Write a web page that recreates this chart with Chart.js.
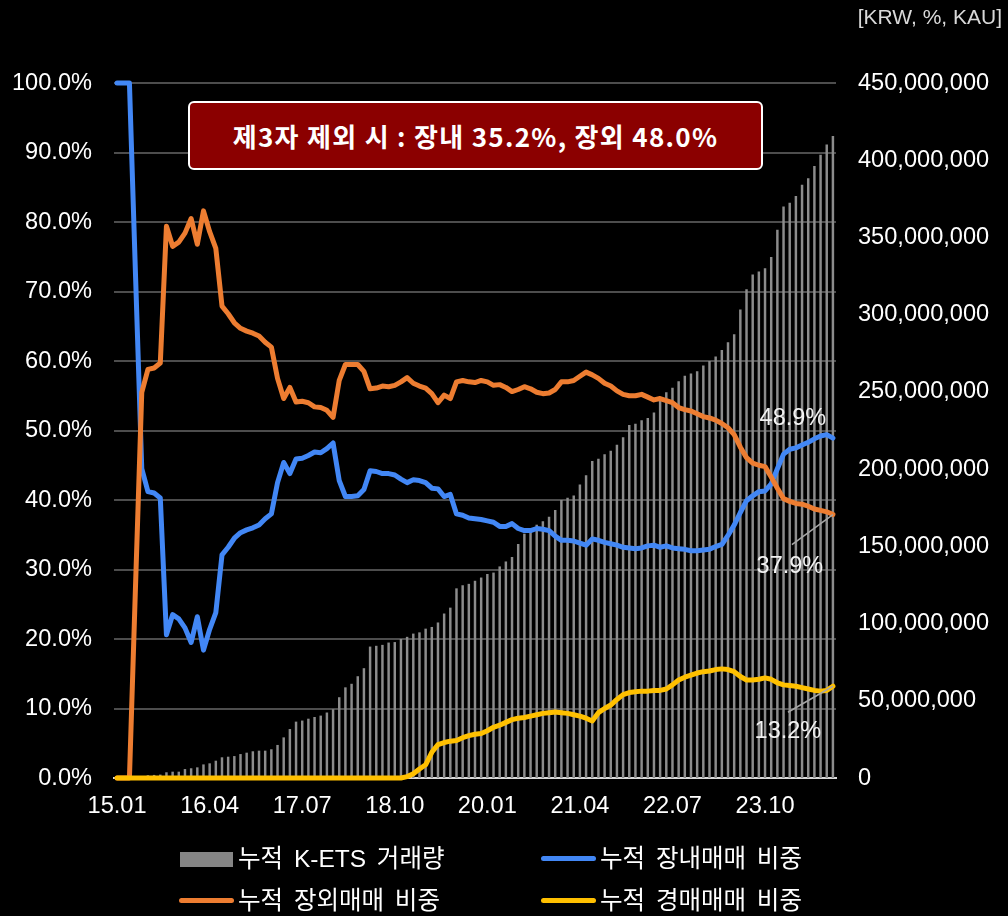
<!DOCTYPE html>
<html><head><meta charset="utf-8">
<script src="https://cdn.jsdelivr.net/npm/chart.js@4.4.1/dist/chart.umd.min.js"></script>
<style>
html,body{margin:0;padding:0;background:#000;}
#wrap{position:relative;width:1008px;height:916px;background:#000;overflow:hidden;}
#c{position:absolute;left:0;top:0;}
.note{position:absolute;left:188px;top:101px;width:575px;height:69px;box-sizing:border-box;border:2px solid #fff;border-radius:6px;background:#8b0000;color:#fff;font:bold 26px 'Noto Sans CJK KR',sans-serif;display:flex;align-items:center;justify-content:center;letter-spacing:1.3px;z-index:2;}
.unit{position:absolute;right:6px;top:5px;color:#d9d9d9;font:21px 'Liberation Sans',sans-serif;z-index:2;}
.lgt{position:absolute;color:#fff;font:24.5px 'Liberation Sans','Noto Sans CJK KR',sans-serif;word-spacing:4px;white-space:nowrap;line-height:30px;height:30px;z-index:2;}
.sw{position:absolute;z-index:2;}
</style></head>
<body>
<div id="wrap">
<canvas id="c" width="1008" height="916"></canvas>
<div class="note">제3자 제외 시 : 장내 35.2%, 장외 48.0%</div>
<div class="unit">[KRW, %, KAU]</div>
<div class="sw" style="left:180px;top:852px;width:53px;height:15px;background:#858585;"></div>
<div class="lgt" style="left:238px;top:844px;" id="lg0"></div>
<div class="sw" style="left:541px;top:856px;width:55px;height:5px;border-radius:3px;background:#4287f5;"></div>
<div class="lgt" style="left:600px;top:844px;" id="lg1"></div>
<div class="sw" style="left:179px;top:898px;width:55px;height:5px;border-radius:3px;background:#ed7d31;"></div>
<div class="lgt" style="left:238px;top:886px;" id="lg2"></div>
<div class="sw" style="left:541px;top:898px;width:55px;height:5px;border-radius:3px;background:#ffc000;"></div>
<div class="lgt" style="left:600px;top:886px;" id="lg3"></div>
</div>
<script>
// ---------- DATA ----------
const months = [
 '15.01','15.02','15.03','15.04','15.05','15.06','15.07','15.08','15.09','15.10','15.11','15.12',
 '16.01','16.02','16.03','16.04','16.05','16.06','16.07','16.08','16.09','16.10','16.11','16.12',
 '17.01','17.02','17.03','17.04','17.05','17.06','17.07','17.08','17.09','17.10','17.11','17.12',
 '18.01','18.02','18.03','18.04','18.05','18.06','18.07','18.08','18.09','18.10','18.11','18.12',
 '19.01','19.02','19.03','19.04','19.05','19.06','19.07','19.08','19.09','19.10','19.11','19.12',
 '20.01','20.02','20.03','20.04','20.05','20.06','20.07','20.08','20.09','20.10','20.11','20.12',
 '21.01','21.02','21.03','21.04','21.05','21.06','21.07','21.08','21.09','21.10','21.11','21.12',
 '22.01','22.02','22.03','22.04','22.05','22.06','22.07','22.08','22.09','22.10','22.11','22.12',
 '23.01','23.02','23.03','23.04','23.05','23.06','23.07','23.08','23.09','23.10','23.11','23.12',
 '24.01','24.02','24.03','24.04','24.05','24.06','24.07','24.08','24.09'
];
const xTickLabels = ['15.01','16.04','17.07','18.10','20.01','21.04','22.07','23.10'];
const seriesNames = ['누적 K-ETS 거래량','누적 장내매매 비중','누적 장외매매 비중','누적 경매매매 비중'];

// cumulative K-ETS volume, million KAU
const cumVolumeMillion = [
 0.2,0.4,0.6,0.9,1.3,1.8,2.0,2.2,3.7,4.1,
 4.1,5.8,6.3,6.9,8.8,9.5,11.2,13.4,13.8,14.2,
 15.5,16.4,17.3,17.7,17.7,18.6,21.4,26.3,31.7,36.5,
 37.2,38.4,39.5,40.4,42.4,44.5,52.3,58.7,61.0,65.9,
 71.1,85.1,85.6,86.2,87.7,88.0,90.0,91.4,93.5,94.3,
 96.7,97.8,100.7,106.5,110.3,122.8,124.8,125.7,127.7,129.8,
 132.1,133.0,137.0,140.2,143.1,151.5,158.2,161.1,164.0,166.3,
 169.2,173.6,180.0,181.4,182.9,190.1,196.0,205.2,206.7,209.6,
 211.9,215.7,220.6,228.5,229.3,231.7,233.1,236.6,244.7,249.7,
 252.6,256.9,260.4,261.9,263.3,267.1,270.0,272.9,277.2,282.2,
 287.4,303.4,316.4,326.0,328.0,330.1,337.3,355.0,370.1,372.5,
 376.8,384.1,388.4,396.3,403.5,410.2,415.7
];
// cumulative on-exchange share (%)
const onExchangeShare = [
 100,100,100,72,44.5,41.2,41.0,40.3,20.6,23.5,
 22.9,21.6,19.5,23.2,18.4,21.4,23.8,32.1,33.2,34.5,
 35.3,35.7,36.0,36.4,37.3,38.0,42.5,45.4,43.8,45.9,
 46.0,46.4,46.9,46.8,47.4,48.2,42.8,40.5,40.5,40.6,
 41.5,44.2,44.1,43.8,43.8,43.6,43.0,42.5,42.9,42.8,
 42.5,41.7,41.6,40.5,40.8,38.0,37.8,37.4,37.3,37.2,
 37.0,36.8,36.2,36.2,36.6,35.9,35.6,35.6,35.9,35.8,
 35.6,34.8,34.2,34.2,34.1,33.8,33.5,34.4,34.2,33.9,
 33.7,33.5,33.2,33.1,33.0,33.1,33.4,33.5,33.2,33.4,
 33.1,33.0,32.9,32.7,32.7,32.8,32.9,33.3,33.6,34.9,
 36.4,38.2,39.9,40.6,41.2,41.3,42.3,44.5,46.6,47.3,
 47.5,47.9,48.3,48.8,49.2,49.4,48.9
];
// cumulative OTC share (%)
const otcShare = [
 0,0,0,28,55.5,58.8,59.0,59.7,79.4,76.5,
 77.1,78.4,80.5,76.8,81.6,78.6,76.2,67.9,66.8,65.5,
 64.7,64.3,64.0,63.6,62.7,62.0,57.5,54.6,56.2,54.1,
 54.2,54.0,53.4,53.3,52.9,51.9,57.2,59.5,59.5,59.5,
 58.5,56.0,56.1,56.4,56.3,56.5,57.0,57.6,56.8,56.4,
 56.1,55.3,54.0,55.1,54.6,57.0,57.2,57.0,56.9,57.2,
 57.0,56.5,56.6,56.2,55.6,55.9,56.3,56.0,55.5,55.3,
 55.4,55.9,57.0,57.0,57.2,57.8,58.4,58.0,57.5,56.8,
 56.4,55.7,55.2,55.0,55.0,55.2,54.8,54.4,54.6,54.3,
 54.0,53.3,53.0,52.8,52.4,52.0,51.8,51.5,51.0,50.4,
 49.4,47.6,46.1,45.3,45.0,44.8,43.3,41.7,40.2,39.8,
 39.5,39.4,39.1,38.7,38.5,38.3,37.9
];
// cumulative auction share (%)
const auctionShare = [
 0,0,0,0,0,0,0,0,0,0,
 0,0,0,0,0,0,0,0,0,0,
 0,0,0,0,0,0,0,0,0,0,
 0,0,0,0,0,0,0,0,0,0,
 0,0,0,0,0,0,0,0.2,0.6,1.3,
 1.9,3.7,4.8,5.1,5.3,5.4,5.8,6.1,6.3,6.4,
 6.8,7.3,7.6,8.0,8.4,8.6,8.7,8.9,9.1,9.3,
 9.4,9.5,9.4,9.3,9.1,8.9,8.6,8.2,9.4,10.0,
 10.5,11.3,12.0,12.3,12.4,12.5,12.5,12.6,12.6,12.8,
 13.4,14.1,14.5,14.8,15.1,15.3,15.4,15.6,15.7,15.6,
 15.3,14.6,14.1,14.1,14.2,14.4,14.2,13.7,13.4,13.3,
 13.2,13.0,12.8,12.6,12.5,12.6,13.2
];

// ---------- CHART ----------
const FONT = "'Liberation Sans', Arial, sans-serif";
Chart.defaults.font.family = FONT;
Chart.defaults.font.size = 23.6;
Chart.defaults.color = '#ffffff';

seriesNames.forEach((n,i)=>{document.getElementById('lg'+i).textContent = n;});

const endLabels = {
  id: 'endLabels',
  afterDatasetsDraw(chart) {
    const ctx = chart.ctx;
    const specs = [
      {ds: 1, dx: -40, dy: -13, lead: null},
      {ds: 2, dx: -43, dy: 58, lead: [-41, 30]},
      {ds: 3, dx: -45, dy: 52, lead: [-45, 26]}
    ];
    ctx.save();
    specs.forEach(s => {
      const meta = chart.getDatasetMeta(s.ds);
      const pt = meta.data[meta.data.length - 1];
      const arr = chart.data.datasets[s.ds].data;
      const v = arr[arr.length - 1];
      if (s.lead) {
        ctx.strokeStyle = '#a6a6a6'; ctx.lineWidth = 1.5;
        ctx.beginPath(); ctx.moveTo(pt.x + s.lead[0], pt.y + s.lead[1]); ctx.lineTo(pt.x, pt.y); ctx.stroke();
      }
      ctx.fillStyle = '#f2f2f2';
      ctx.font = "23.5px " + FONT;
      ctx.textAlign = 'center';
      ctx.textBaseline = 'alphabetic';
      ctx.fillText(v.toFixed(1) + '%', pt.x + s.dx, pt.y + s.dy);
    });
    ctx.restore();
  }
};

const bgPlugin = {
  id: 'bg',
  beforeDraw(chart) {
    const ctx = chart.ctx; ctx.save(); ctx.fillStyle = '#000'; ctx.fillRect(0, 0, chart.width, chart.height); ctx.restore();
  }
};

new Chart(document.getElementById('c'), {
  type: 'bar',
  data: {
    labels: months,
    datasets: [
      {type: 'bar', label: seriesNames[0], data: cumVolumeMillion, yAxisID: 'y1', backgroundColor: '#8c8c8c',
       barPercentage: 0.4, categoryPercentage: 1.0, order: 10},
      {type: 'line', label: seriesNames[1], data: onExchangeShare, yAxisID: 'y', borderColor: '#4287f5', borderWidth: 5,
       pointRadius: 0, tension: 0, borderJoinStyle: 'round', borderCapStyle: 'round', clip: false, order: 3},
      {type: 'line', label: seriesNames[2], data: otcShare, yAxisID: 'y', borderColor: '#ed7d31', borderWidth: 5,
       pointRadius: 0, tension: 0, borderJoinStyle: 'round', borderCapStyle: 'round', clip: false, order: 2},
      {type: 'line', label: seriesNames[3], data: auctionShare, yAxisID: 'y', borderColor: '#ffc000', borderWidth: 5,
       pointRadius: 0, tension: 0, borderJoinStyle: 'round', borderCapStyle: 'round', clip: false, order: 1}
    ]
  },
  options: {
    responsive: false,
    animation: false,
    events: [],
    devicePixelRatio: 1,
    layout: {padding: {top: 83, left: 0, right: 0, bottom: 0}},
    plugins: {legend: {display: false}, tooltip: {enabled: false}},
    scales: {
      x: {
        offset: true,
        grid: {display: false, drawTicks: false},
        border: {display: true, color: '#d9d9d9', width: 2},
        ticks: {
          autoSkip: false, maxRotation: 0, minRotation: 0, padding: 14, color: '#ffffff',
          callback: function(v, i) { const l = months[i]; return xTickLabels.includes(l) ? l : ''; }
        },
        afterFit(s) { s.height = 138; }
      },
      y: {
        position: 'left', min: 0, max: 100,
        grid: {color: '#4d4d4d', lineWidth: 2, drawTicks: false},
        border: {display: false},
        ticks: {stepSize: 10, padding: 22, color: '#ffffff', callback: v => v.toFixed(1) + '%'},
        afterFit(s) { s.width = 114; }
      },
      y1: {
        position: 'right', min: 0, max: 450,
        grid: {display: false, drawTicks: false},
        border: {display: false},
        ticks: {stepSize: 50, padding: 22, color: '#ffffff', callback: v => (v * 1000000).toLocaleString('en-US')},
        afterFit(s) { s.width = 172; }
      }
    }
  },
  plugins: [bgPlugin, endLabels]
});
</script>
</body></html>
